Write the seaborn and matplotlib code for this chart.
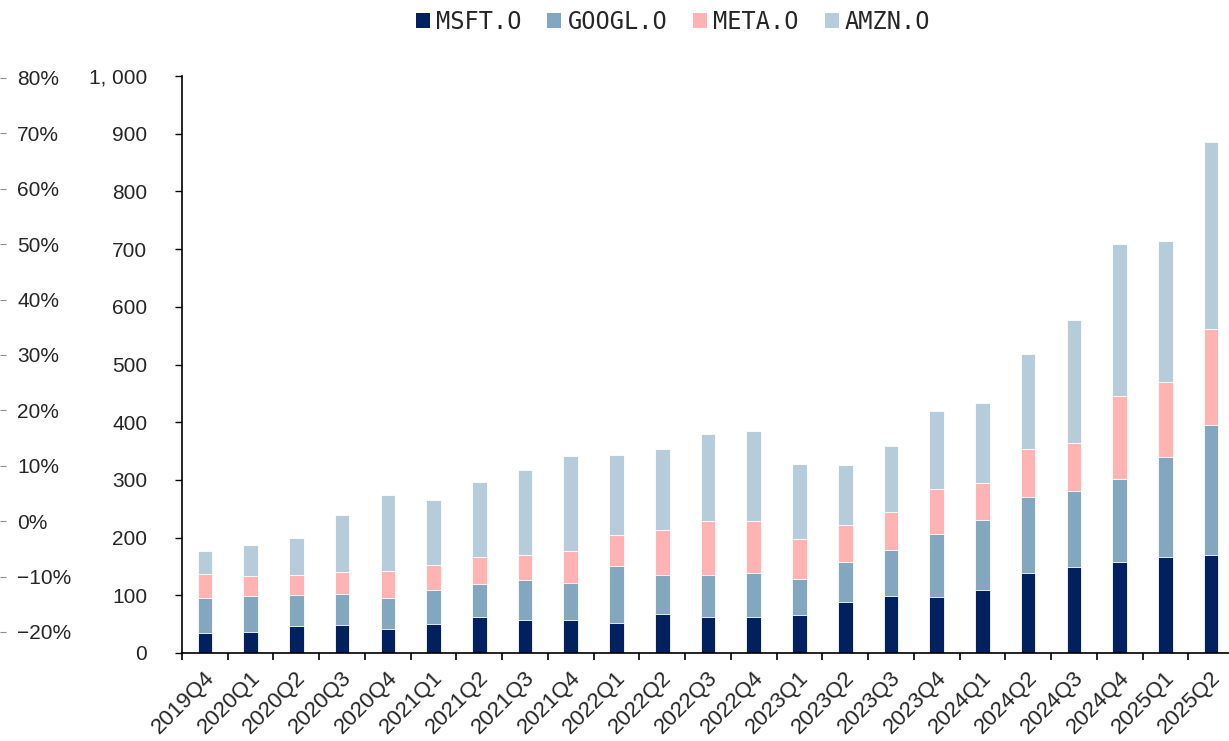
# 美股四大云厂商季度资本开支（堆积柱状图）
import numpy as np
import pandas as pd
import seaborn as sns
from matplotlib import pyplot as plt
from matplotlib.patches import Patch
from matplotlib.ticker import FixedLocator
from matplotlib.transforms import ScaledTranslation

quarters = ['2019Q4', '2020Q1', '2020Q2', '2020Q3', '2020Q4', '2021Q1', '2021Q2', '2021Q3',
            '2021Q4', '2022Q1', '2022Q2', '2022Q3', '2022Q4', '2023Q1', '2023Q2', '2023Q3',
            '2023Q4', '2024Q1', '2024Q2', '2024Q3', '2024Q4', '2025Q1', '2025Q2']
msft = [35, 37, 47, 49, 41, 50, 63, 57, 58, 52, 67, 62, 62, 65, 89, 99,
        97, 110, 138, 149, 158, 166, 170]
googl = [61, 61, 54, 54, 55, 59, 56, 69, 64, 99, 69, 73, 76, 64, 69, 80,
         110, 120, 133, 131, 143, 173, 226]
meta = [41, 36, 34, 37, 46, 43, 47, 43, 55, 54, 77, 94, 90, 68, 63, 66,
        78, 65, 83, 84, 145, 131, 166]
amzn = [39, 54, 65, 99, 132, 113, 130, 148, 165, 138, 141, 151, 156, 131, 104, 113,
        134, 139, 164, 213, 262, 244, 324]
names = ['MSFT.O', 'GOOGL.O', 'META.O', 'AMZN.O']
colors = ['#002060', '#84A7C0', '#FFB3B3', '#B7CCDA']
pct_ticks = [80, 70, 60, 50, 40, 30, 20, 10, 0, -10, -20]

df = pd.DataFrame({'quarter': quarters, 'MSFT.O': msft, 'GOOGL.O': googl,
                   'META.O': meta, 'AMZN.O': amzn})
cum = df[names].cumsum(axis=1)
cum['quarter'] = df['quarter']

sns.set_style('white')
plt.rcParams['font.family'] = ['Liberation Sans', 'DejaVu Sans']

fig = plt.figure(figsize=(12.29, 7.41), dpi=100)
ax = fig.add_axes([182 / 1229, 88 / 741, (1234 - 182) / 1229, 577 / 741])

# 从最高的累计值开始画，后面的覆盖前面的
for name, c in zip(names[::-1], colors[::-1]):
    sns.barplot(data=cum, x='quarter', y=name, color=c, width=0.32,
                edgecolor='white', linewidth=0.6, saturation=1, ax=ax)

ax.set_xlim(-0.5, len(quarters) - 0.5)
ax.set_ylim(0, 1000)
ax.set_xlabel('')
ax.set_ylabel('')
ax.set_yticks(np.arange(0, 1001, 100))
ax.set_yticklabels(['{:,}'.format(v).replace(',', ', ') for v in range(0, 1001, 100)])
ax.tick_params(axis='y', direction='out', length=5, width=1, color='black',
               labelsize=15, pad=20, left=True)
ax.set_xticks(range(len(quarters)))
ax.set_xticklabels(quarters, rotation=45, ha='right', rotation_mode='anchor')
ax.tick_params(axis='x', which='major', length=0, labelsize=16, pad=10)
shift = ScaledTranslation(-1 / 100, 0, fig.dpi_scale_trans)
for lab in ax.get_xticklabels():
    lab.set_transform(lab.get_transform() + shift)
ax.xaxis.set_minor_locator(FixedLocator(np.arange(-0.5, len(quarters), 1)))
ax.tick_params(axis='x', which='minor', direction='out', length=5, width=1.2,
               color='black', bottom=True)
for s in ['top', 'right']:
    ax.spines[s].set_visible(False)
for s in ['left', 'bottom']:
    ax.spines[s].set_color('black')
    ax.spines[s].set_linewidth(1.2)

# 最左边的百分比轴
ax2 = ax.twinx()
ax2.set_ylim(-23.8, 80.36)
ax2.set_yticks(pct_ticks)
ax2.set_yticklabels([('\u2212' if v < 0 else '') + '{}%'.format(abs(v)) for v in pct_ticks])
for s in ax2.spines.values():
    s.set_visible(False)
ax2.spines['right'].set_position(('axes', -182 / 1052))
ax2.tick_params(axis='y', direction='out', length=4.5, width=0.8, color='#8c8c8c',
                labelsize=15, pad=8)
ax2.grid(False)
ax.grid(False)

handles = [Patch(facecolor=c, edgecolor='none') for c in colors]
fig.legend(handles, names, loc='center', bbox_to_anchor=(673 / 1229, 1 - 22 / 741),
           ncol=4, frameon=False, handlelength=0.6, handleheight=0.6,
           handletextpad=0.25, columnspacing=1.1,
           prop={'family': 'DejaVu Sans Mono', 'size': 17})

fig.savefig('out.png', dpi=100)
